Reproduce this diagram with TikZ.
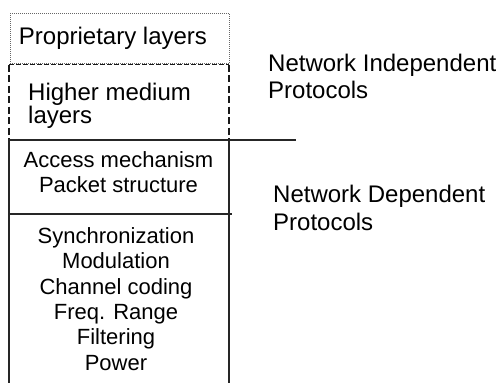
\documentclass[tikz,border=0pt]{standalone}
\usepackage{fontspec}
\setmainfont{Liberation Sans}
\begin{document}
\begin{tikzpicture}[x=1pt,y=-1pt,
  big/.style={font=\fontsize{24}{27}\selectfont, inner sep=0pt, anchor=base west},
  small/.style={font=\fontsize{22}{25}\selectfont, inner sep=0pt, anchor=base},
  solidline/.style={line width=1.8pt, black!85},
  dashline/.style={line width=1.6pt, black!90, dash pattern=on 7pt off 3.5pt},
  dotline/.style={line width=0.8pt, black!60, dash pattern=on 1pt off 1pt}]
\useasboundingbox (0,0) rectangle (501,383);
% proprietary (dotted) box
\draw[dotline] (10,13) rectangle (229.5,63);
% higher medium (dashed) box
\draw[dashline, dash pattern=on 4.5pt off 2.5pt] (9,64.5) -- (229,64.5);
\draw[dashline] (229,64.5) -- (229,139);
\draw[dashline] (9,64.5) -- (9,139);
% network dependent box (open at bottom)
\draw[solidline] (9,383.5) -- (9,140) -- (296,140);
\draw[solidline] (229,140) -- (229,383.5);
\draw[solidline] (9,214) -- (232,214);
% texts
\node[big, anchor=base] (prop) at (113,44) {Proprietary layers};
\node[big] (hm1) at (28,100) {Higher medium};
\node[big] (hm2) at (28,123) {layers};
\node[small] (acc) at (118.5,167) {Access mechanism};
\node[small] (pkt) at (118.5,192.5) {Packet structure};
\node[small] (l1) at (116,243) {Synchronization};
\node[small] (l2) at (116,268.5) {Modulation};
\node[small] (l3) at (116,294) {Channel coding};
\node[small] (l4) at (116,319) {Freq. Range};
\node[small] (l5) at (116,344.5) {Filtering};
\node[small] (l6) at (116,370) {Power};
\node[big] (ni1) at (268,71.7) {Network Independent};
\node[big] (ni2) at (268,98.3) {Protocols};
\node[big] (nd1) at (273,202.7) {Network Dependent};
\node[big] (nd2) at (273,230) {Protocols};
\end{tikzpicture}
\end{document}
